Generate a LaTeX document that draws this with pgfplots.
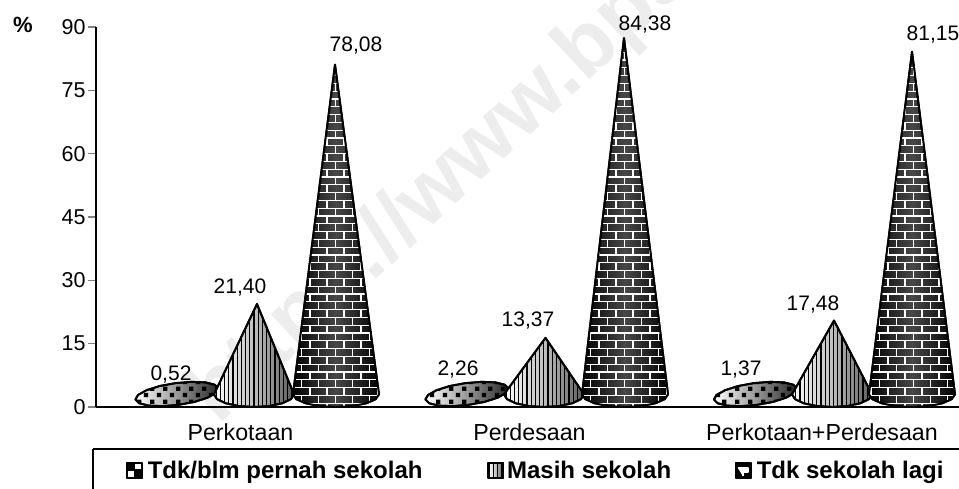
\documentclass[border=0pt]{standalone}
\usepackage{fontspec}
\setmainfont{Liberation Sans}
\usepackage{pgfplots}
\pgfplotsset{compat=1.18}
\usetikzlibrary{patterns}
\pgfdeclarepatternformonly{brickw}{\pgfqpoint{-1pt}{-1pt}}{\pgfqpoint{18pt}{16.6pt}}{\pgfqpoint{17pt}{15.6pt}}{
  \pgfsetlinewidth{1.25pt}
  \pgfpathmoveto{\pgfqpoint{-1pt}{0pt}}\pgfpathlineto{\pgfqpoint{18pt}{0pt}}
  \pgfpathmoveto{\pgfqpoint{-1pt}{7.8pt}}\pgfpathlineto{\pgfqpoint{18pt}{7.8pt}}
  \pgfpathmoveto{\pgfqpoint{4pt}{0pt}}\pgfpathlineto{\pgfqpoint{4pt}{7.8pt}}
  \pgfpathmoveto{\pgfqpoint{12.5pt}{7.8pt}}\pgfpathlineto{\pgfqpoint{12.5pt}{15.6pt}}
  \pgfusepath{stroke}}
\pgfdeclarepatternformonly{stripev}{\pgfqpoint{-1pt}{-1pt}}{\pgfqpoint{5pt}{5pt}}{\pgfqpoint{4.2pt}{4.2pt}}{
  \pgfsetlinewidth{1.25pt}
  \pgfpathmoveto{\pgfqpoint{2pt}{-1pt}}\pgfpathlineto{\pgfqpoint{2pt}{5pt}}
  \pgfusepath{stroke}}
\pgfdeclarepatternformonly{checkd}{\pgfqpoint{0pt}{0pt}}{\pgfqpoint{13pt}{13pt}}{\pgfqpoint{13pt}{13pt}}{
  \pgfpathrectangle{\pgfqpoint{1pt}{1pt}}{\pgfqpoint{4.5pt}{4.5pt}}
  \pgfpathrectangle{\pgfqpoint{7.5pt}{7.5pt}}{\pgfqpoint{4.5pt}{4.5pt}}
  \pgfusepath{fill}}
\tikzset{
  conebrick/.style={draw=black,line width=1.9pt,line join=round,
    preaction={left color=black,right color=black,middle color=black!72},
    pattern=brickw,pattern color=white},
  conestripe/.style={draw=black,line width=1.9pt,line join=round,
    preaction={left color=white,right color=black!65,middle color=black!25},
    pattern=stripev,pattern color=black},
  coneellipse/.style={draw=black,line width=1.9pt,line join=round,
    preaction={left color=white,right color=black!85,middle color=black!40},
    pattern=checkd,pattern color=black},
}
\newcommand{\vlab}{\fontsize{21}{24}\selectfont}
\begin{document}
\begin{tikzpicture}[x=1pt,y=1pt]
\useasboundingbox (-96,-82) rectangle (863,407);
\node[rotate=43,anchor=base west,text=black!7,inner sep=0pt,font=\bfseries\fontsize{85}{90}\selectfont] at (122,-19) {https://www.bps.go.id};
\begin{axis}[
  at={(0pt,0pt)},anchor=south west,
  scale only axis,width=864pt,height=380pt,
  xmin=96,xmax=960,ymin=0,ymax=90,
  axis x line*=bottom,axis y line*=left,
  axis line style={line width=1.8pt,-},
  ytick={0,15,...,90},
  xtick={240.5,529.5,822},
  xticklabels={Perkotaan,Perdesaan,Perkotaan+Perdesaan},
  xtick style={draw=none},
  extra x ticks={96,385,674,960},
  extra x tick labels={},
  extra x tick style={tick align=outside,tick style={draw=black,line width=1.6pt},major tick length=8pt},
  tick align=outside,
  ytick style={line width=1.6pt},
  major tick length=8pt,
  yticklabel style={font=\fontsize{21.5}{24}\selectfont,xshift=1pt},
  xticklabel style={font=\fontsize{23.2}{25}\selectfont,yshift=-5pt},
  /pgf/number format/assume math mode=true,
  clip=false,
  legend columns=3,
  legend style={at={(axis cs:126,-12.2)},anchor=north west,draw=none,fill=none,
    font=\bfseries\fontsize{24}{26}\selectfont,inner sep=0pt,
    /tikz/column 1/.style={column sep=3pt},
    /tikz/column 2/.style={column sep=63pt},
    /tikz/column 3/.style={column sep=1pt},
    /tikz/column 4/.style={column sep=62pt},
    /tikz/column 5/.style={column sep=3pt}},
  legend cell align=left,
]
% Perkotaan
\addplot[coneellipse,legend image code/.code={\draw[draw=black,line width=1.6pt,fill=white] (0pt,-8pt) rectangle (15pt,7pt); \fill[black] (1pt,0pt) rectangle (7.5pt,6pt); \fill[black] (7.5pt,-7pt) rectangle (14pt,0pt);}] coordinates {(218.6,4.38)(214.9,5.27)(205.4,5.83)(191.6,5.96)(175.6,5.66)(159.7,4.97)(146.6,3.98)(138.05,2.86)(135.4,1.78)(139.1,0.89)(148.6,0.33)(162.4,0.20)(178.4,0.50)(194.3,1.19)(207.4,2.18)(215.95,3.30)} -- cycle;
\addlegendentry{Tdk/blm pernah sekolah}
\addplot[conestripe,legend image code/.code={\draw[draw=black,line width=1.6pt,fill=white,pattern=stripev,pattern color=black] (0pt,-8pt) rectangle (15pt,7pt);}] coordinates {(214,3)(257,24.40)(294,3)(291,1.85)(282.3,0.88)(269.3,0.23)(254,0)(238.7,0.23)(225.7,0.88)(217,1.85)} -- cycle;
\addlegendentry{Masih sekolah}
\addplot[conebrick,legend image code/.code={\draw[draw=black,line width=1.6pt,fill=black] (0pt,-8pt) rectangle (15pt,7pt); \draw[white,line width=1.4pt] (2pt,2pt)--(12pt,2pt)--(12pt,-2pt)--(7pt,-2pt)--(7pt,-6pt);}] coordinates {(293,3)(335,81.08)(379,3)(375.7,1.85)(366.4,0.88)(352.5,0.23)(336,0)(319.5,0.23)(305.6,0.88)(296.3,1.85)} -- cycle;
\addlegendentry{Tdk sekolah lagi}
% Perdesaan
\addplot[coneellipse,forget plot] coordinates {(508.6,4.38)(504.9,5.27)(495.4,5.83)(481.6,5.96)(465.6,5.66)(449.7,4.97)(436.6,3.98)(428.05,2.86)(425.4,1.78)(429.1,0.89)(438.6,0.33)(452.4,0.20)(468.4,0.50)(484.3,1.19)(497.4,2.18)(505.95,3.30)} -- cycle;
\addplot[conestripe,forget plot] coordinates {(504,3)(545.5,16.37)(584,3)(581,1.85)(572.3,0.88)(559.3,0.23)(544,0)(528.7,0.23)(515.7,0.88)(507,1.85)} -- cycle;
\addplot[conebrick,forget plot] coordinates {(582,3)(624,87.38)(668,3)(664.7,1.85)(655.4,0.88)(641.5,0.23)(625,0)(608.5,0.23)(594.6,0.88)(585.3,1.85)} -- cycle;
% Perkotaan+Perdesaan
\addplot[coneellipse,forget plot] coordinates {(797.1,4.38)(793.4,5.27)(783.9,5.83)(770.1,5.96)(754.1,5.66)(738.2,4.97)(725.1,3.98)(716.55,2.86)(713.9,1.78)(717.6,0.89)(727.1,0.33)(740.9,0.20)(756.9,0.50)(772.8,1.19)(785.9,2.18)(794.45,3.30)} -- cycle;
\addplot[conestripe,forget plot] coordinates {(792,3)(834,20.48)(872,3)(869,1.85)(860.3,0.88)(847.3,0.23)(832,0)(816.7,0.23)(803.7,0.88)(795,1.85)} -- cycle;
\addplot[conebrick,forget plot] coordinates {(869,3)(912,84.15)(955,3)(951.7,1.85)(942.4,0.88)(928.5,0.23)(912,0)(895.5,0.23)(881.6,0.88)(872.3,1.85)} -- cycle;
% value labels
\node[font=\vlab] at (axis cs:171,7.8) {0,52};
\node[font=\vlab] at (axis cs:240,28.2) {21,40};
\node[font=\vlab] at (axis cs:356,85.7) {78,08};
\node[font=\vlab] at (axis cs:458,8.8) {2,26};
\node[font=\vlab] at (axis cs:528,20.6) {13,37};
\node[font=\vlab] at (axis cs:645,90.7) {84,38};
\node[font=\vlab] at (axis cs:741,8.8) {1,37};
\node[font=\vlab] at (axis cs:813,24.2) {17,48};
\node[font=\vlab] at (axis cs:933,88.3) {81,15};
\end{axis}
\node[font=\bfseries\fontsize{22}{24}\selectfont] at (-73,382) {\%};
\draw[line width=1.8pt] (-3,-42) -- (863,-42);
\draw[line width=1.8pt] (-3,-42) -- (-3,-82);
\end{tikzpicture}
\end{document}
